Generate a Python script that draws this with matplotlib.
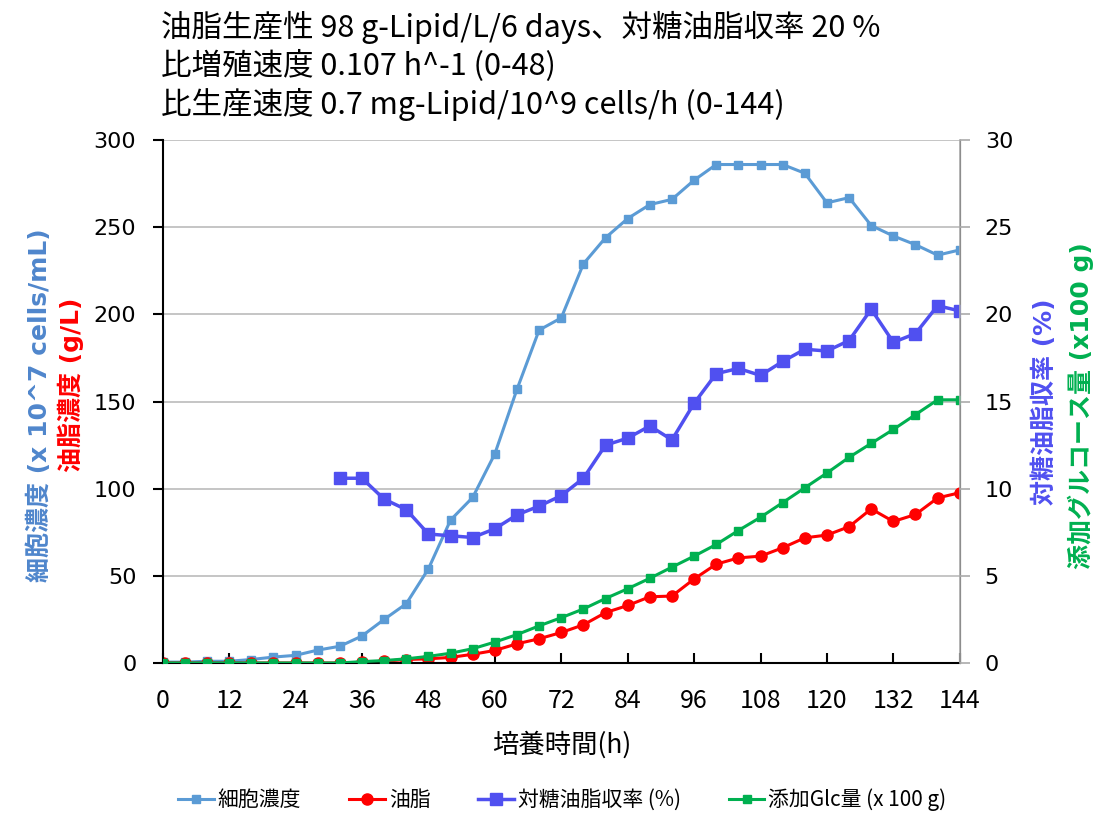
import numpy as np
import matplotlib.pyplot as plt

plt.rcParams['font.family'] = ['Noto Sans CJK JP', 'DejaVu Sans']
WIDE = ['DejaVu Sans', 'Noto Sans CJK JP']

# 培養時間 (h)
hours = np.arange(0, 145, 4)

# 細胞濃度 (x 10^7 cells/mL)
cells = [0.5, 0.5, 1, 1, 2, 3.4, 4.4, 7.4, 9.6, 15.5, 25, 34, 54, 82, 95, 120,
         157, 191, 198, 229, 244, 255, 263, 266, 277, 286, 286, 286, 286, 281,
         264, 267, 251, 245, 240, 234, 237]

# 油脂濃度 (g/L)
lipid = [0, 0, 0, 0, 0, 0, 0, 0, 0, 0.4, 1, 2, 2.4, 3.2, 5, 7.2, 11, 13.9,
         17.5, 21.9, 28.9, 33, 38, 38.4, 48.2, 56.7, 60.3, 61.3, 66.1, 71.8,
         73.4, 78.2, 88.4, 81.2, 85.2, 94.7, 97.7]

# 対糖油脂収率 (%)
yield_pct = [np.nan] * 8 + [10.6, 10.6, 9.4, 8.8, 7.4, 7.3, 7.2, 7.7, 8.5, 9.0,
                            9.6, 10.6, 12.5, 12.9, 13.6, 12.8, 14.9, 16.6, 16.9,
                            16.5, 17.3, 18.0, 17.9, 18.5, 20.3, 18.4, 18.9,
                            20.5, 20.2]

# 添加グルコース量 (x100 g)
glucose = [0, 0, 0, 0, 0, 0, 0, 0, 0, 0.08, 0.14, 0.24, 0.38, 0.56, 0.82, 1.2,
           1.63, 2.13, 2.6, 3.1, 3.7, 4.26, 4.86, 5.5, 6.13, 6.8, 7.6, 8.36,
           9.2, 10.05, 10.9, 11.8, 12.6, 13.4, 14.25, 15.1, 15.1]

c_cells = '#5B9BD5'
c_lipid = '#FF0000'
c_yield = '#5050F0'
c_glc = '#00B050'

fig = plt.figure(figsize=(11.07, 8.17), dpi=100)
ax = fig.add_axes([0.147, 0.1885, 0.72, 0.64])
ax2 = ax.twinx()

l1, = ax.plot(hours, cells, color=c_cells, marker='s', markersize=6, linewidth=2.2, label='細胞濃度')
l2, = ax.plot(hours, lipid, color=c_lipid, marker='o', markersize=8, linewidth=2.2, label='油脂')
l3, = ax2.plot(hours, yield_pct, color=c_yield, marker='s', markersize=9, linewidth=2.5, label='対糖油脂収率 (%)')
l4, = ax2.plot(hours, glucose, color=c_glc, marker='s', markersize=6, linewidth=2.2, label='添加Glc量 (x 100 g)')

ax.set_xlim(0, 144)
ax.set_ylim(0, 300)
ax2.set_ylim(0, 30)
ax.set_xticks(np.arange(0, 145, 12))
ax.set_yticks(np.arange(0, 301, 50))
ax2.set_yticks(np.arange(0, 31, 5))

ax.grid(axis='y', color='#BBBBBB', linewidth=1.2)
ax.set_axisbelow(True)

for a in (ax, ax2):
    a.spines['top'].set_visible(False)
ax.spines['left'].set_color('black')
ax.spines['left'].set_linewidth(1.5)
ax.spines['bottom'].set_linewidth(1.5)
ax2.spines['right'].set_color('#AAAAAA')
ax2.spines['right'].set_linewidth(1.2)
ax2.spines['left'].set_visible(False)
ax2.spines['bottom'].set_visible(False)

ax.tick_params(axis='x', direction='in', length=7, width=1.5, labelsize=18, pad=18)
ax.tick_params(axis='y', direction='out', length=7, width=1.5, labelsize=16, pad=12)
ax2.tick_params(axis='y', direction='out', length=7, width=1.2, color='#AAAAAA', labelsize=16, pad=11)
for lbl in ax.get_yticklabels() + ax2.get_yticklabels():
    lbl.set_family(WIDE)

ax.set_xlabel('培養時間(h)', fontsize=19, labelpad=12)

# 左軸ラベル (2 行)
fig.text(0.036, 0.504, '細胞濃度 (x 10^7 cells/mL)', rotation=90, color='#4F86CC',
         fontsize=18, fontweight='bold', ha='center', va='center', family=WIDE)
fig.text(0.064, 0.529, '油脂濃度 (g/L)', rotation=90, color=c_lipid,
         fontsize=18, fontweight='bold', ha='center', va='center', family=WIDE)
# 右軸ラベル (2 行)
fig.text(0.944, 0.508, '対糖油脂収率 (%)', rotation=90, color=c_yield,
         fontsize=18, fontweight='bold', ha='center', va='center', family=WIDE)
fig.text(0.976, 0.504, '添加グルコース量 (x100 g)', rotation=90, color=c_glc,
         fontsize=18, fontweight='bold', ha='center', va='center', family=WIDE)

# 上部の要約
summary = ['油脂生産性 98 g-Lipid/L/6 days、対糖油脂収率 20 %',
           '比増殖速度 0.107 h^-1 (0-48)',
           '比生産速度 0.7 mg-Lipid/10^9 cells/h (0-144)']
for i, s in enumerate(summary):
    fig.text(0.145, 0.966 - i * 0.047, s, fontsize=22, ha='left', va='center')

fig.legend(handles=[l1, l2, l3, l4], loc='center', bbox_to_anchor=(0.508, 0.021),
           ncol=4, frameon=False, fontsize=15, handlelength=1.7, columnspacing=2.3,
           handletextpad=0.2)

fig.savefig('out.png', dpi=100)
